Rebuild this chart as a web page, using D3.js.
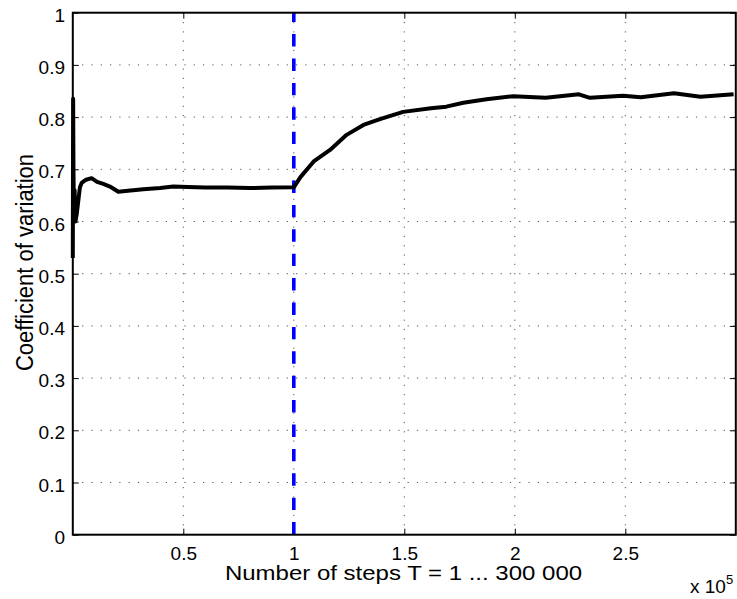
<!DOCTYPE html>
<meta charset="utf-8">
<style>
    body { margin: 0; background: #fff; }
    text { font-family: "Liberation Sans", Arial, sans-serif; fill: #000; }
    .grid line { stroke: #555; stroke-width: 1; stroke-dasharray: 1.2 8.1; }
    .axis path { display: none; }
    .axis line { stroke: #000; stroke-width: 1; }
    .axis text { font-size: 19px; }
</style>
<svg width="737" height="599"></svg>
<script src="https://d3js.org/d3.v7.min.js"></script>
<script>

    // number of steps and coefficient of variation
    var steps = [0, 150, 300, 500, 800, 1200, 1800, 2500, 3200, 4000, 6000, 8500, 11000, 13800,
        16800, 20600, 25000, 31900, 39500, 45500, 52000, 60000, 70000, 80000, 90000, 100000,
        103000, 109000, 116400, 123900, 131500, 139000, 149500, 162000, 169000, 176700, 187200,
        199300, 214000, 229000, 234000, 249000, 257000, 272000, 284000, 299000];
    var cv = [0.53, 0.835, 0.70, 0.62, 0.66, 0.60, 0.615, 0.64, 0.665, 0.674, 0.68, 0.683, 0.676, 0.672,
        0.667, 0.657, 0.659, 0.662, 0.664, 0.667, 0.666, 0.665, 0.665, 0.664, 0.665, 0.6655,
        0.685, 0.715, 0.737, 0.766, 0.785, 0.796, 0.810, 0.817, 0.820, 0.8276, 0.834,
        0.840, 0.837, 0.8437, 0.837, 0.841, 0.838, 0.8456, 0.839, 0.844];

    var switchStep = 100000;
    var xTicks = [50000, 100000, 150000, 200000, 250000];
    var yTicks = [0, 0.1, 0.2, 0.3, 0.4, 0.5, 0.6, 0.7, 0.8, 0.9, 1];

    var svg = d3.select("svg"),
        margin = {top: 12.7, right: 1.2, bottom: 64.3, left: 72.8},
        width = +svg.attr("width") - margin.left - margin.right,
        height = +svg.attr("height") - margin.top - margin.bottom;

    var x = d3.scaleLinear().domain([0, 300000]).range([0, width]),
        y = d3.scaleLinear().domain([0, 1]).range([height, 0]);

    var g = svg.append("g")
        .attr("transform", "translate(" + margin.left + "," + margin.top + ")");

    // dotted grid
    g.append("g").attr("class", "grid")
        .selectAll("line").data(xTicks).enter().append("line")
        .attr("x1", function(d) { return x(d); }).attr("x2", function(d) { return x(d); })
        .attr("y1", 0).attr("y2", height);
    g.append("g").attr("class", "grid")
        .selectAll("line").data(yTicks.slice(1, -1)).enter().append("line")
        .attr("x1", 0).attr("x2", width)
        .attr("y1", function(d) { return y(d); }).attr("y2", function(d) { return y(d); });

    // axes with inward ticks on all four sides
    var xAxis = g.append("g")
        .attr("class", "axis")
        .attr("transform", "translate(0," + height + ")")
        .call(d3.axisBottom(x).tickValues(xTicks).tickSize(-6)
            .tickFormat(function(d) { return d / 1e5; }));
    xAxis.selectAll("text").attr("y", 25).attr("dy", 0);

    g.append("g")
        .attr("class", "axis")
        .call(d3.axisTop(x).tickValues(xTicks).tickSize(-6).tickFormat(""));

    var yAxis = g.append("g")
        .attr("class", "axis")
        .call(d3.axisLeft(y).tickValues(yTicks).tickSize(-6).tickFormat(function(d) { return d; }));
    yAxis.selectAll("text").attr("x", -7.8).attr("dy", 8.5);

    g.append("g")
        .attr("class", "axis")
        .attr("transform", "translate(" + width + ",0)")
        .call(d3.axisRight(y).tickValues(yTicks).tickSize(-6).tickFormat(""));

    // switch marker
    g.append("line")
        .attr("x1", x(switchStep)).attr("x2", x(switchStep))
        .attr("y1", y(1)).attr("y2", y(0))
        .attr("stroke", "#0000ff")
        .attr("stroke-width", 3.6)
        .attr("stroke-dasharray", "12.4 12")
        .attr("stroke-dashoffset", 3);

    // data line
    var line = d3.line()
        .x(function(d) { return x(d[0]); })
        .y(function(d) { return y(d[1]); });

    g.append("path")
        .datum(d3.zip(steps, cv))
        .attr("fill", "none")
        .attr("stroke", "#000")
        .attr("stroke-width", 4)
        .attr("stroke-linejoin", "round")
        .attr("d", line);

    // frame
    g.append("rect")
        .attr("x", 0).attr("y", 0)
        .attr("width", width).attr("height", height)
        .attr("fill", "none")
        .attr("stroke", "#000")
        .attr("stroke-width", 2);

    // labels (glyphs in the figure are a bit wider than tall)
    svg.append("text")
        .attr("transform", "translate(403.5,580) scale(1.2,1)")
        .attr("text-anchor", "middle")
        .style("font-size", "20px")
        .text("Number of steps T = 1 ... 300 000");

    svg.append("text")
        .attr("transform", "translate(33,262.5) scale(1.1,1) rotate(-90)")
        .attr("text-anchor", "middle")
        .style("font-size", "22px")
        .text("Coefficient of variation");

    var exp = svg.append("text")
        .attr("x", 690)
        .attr("y", 593)
        .style("font-size", "19px");
    exp.append("tspan").text("x 10");
    exp.append("tspan").attr("dy", -9).style("font-size", "13px").text("5");

</script>
